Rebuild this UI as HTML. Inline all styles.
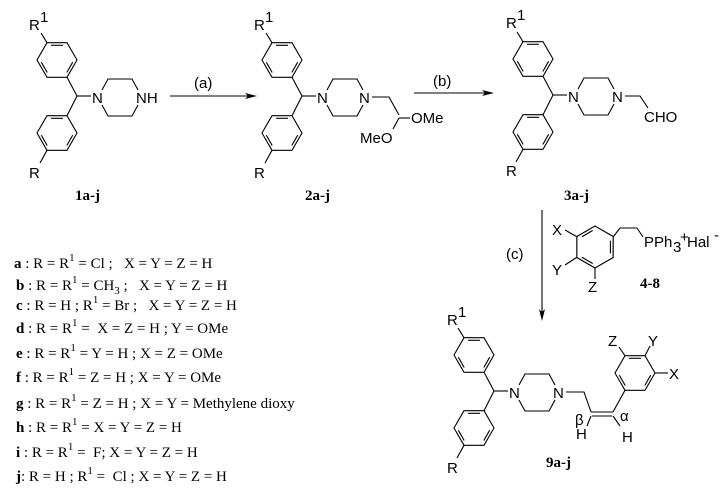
<!DOCTYPE html>
<html><head><meta charset="utf-8"><style>
html,body{margin:0;padding:0;background:#fff;}
svg{display:block;}
text{white-space:pre;}
.s{font-family:"Liberation Sans",sans-serif;font-size:15px;fill:#000;}
.t{font-family:"Liberation Serif",serif;font-size:15px;fill:#000;}
.b{font-family:"Liberation Serif",serif;font-size:15px;font-weight:bold;fill:#000;}
</style></head><body>
<svg width="728" height="498" viewBox="0 0 728 498" xmlns="http://www.w3.org/2000/svg" xml:space="preserve">
<defs>
<g id="hex" fill="none" stroke="#000" stroke-width="1.1">
<polygon points="20,0 10,17.3 -10,17.3 -20,0 -10,-17.3 10,-17.3"/>
<line x1="-5.95" y1="-14.7" x2="5.95" y2="-14.7"/>
<line x1="15.7" y1="2.2" x2="9.8" y2="12.5"/>
<line x1="-9.8" y1="12.5" x2="-15.7" y2="2.2"/>
</g>
<g id="core" fill="none" stroke="#000" stroke-width="1.1">
<use href="#hex" transform="translate(57,60)"/>
<use href="#hex" transform="translate(57,133)"/>
<line x1="47" y1="42.7" x2="41" y2="33"/>
<line x1="67" y1="77.3" x2="77" y2="96"/>
<line x1="77" y1="96" x2="67" y2="115.7"/>
<line x1="77" y1="96" x2="91" y2="96"/>
<line x1="47" y1="150.3" x2="40" y2="163"/>
<polyline points="102,90 108,79 132,79 138,90"/>
<polyline points="102,105 108,116 132,116 138,105"/>
</g>
</defs>

<!-- 1 -->
<use href="#core"/>
<text class="s" x="29" y="30">R</text><text class="s" x="40" y="22" font-size="11">1</text>
<text class="s" x="92" y="103">N</text>
<text class="s" x="136" y="103">NH</text>
<text class="s" x="29" y="178">R</text>
<text class="b" x="75" y="200">1a-j</text>

<!-- arrow a -->
<line x1="170" y1="96" x2="250" y2="96" stroke="#000" stroke-width="1.1"/>
<polygon points="257,96 245,93 248,96 245,99" fill="#000"/>
<text class="s" x="194" y="88">(a)</text>

<!-- 2 -->
<use href="#core" transform="translate(225,0)"/>
<text class="s" x="254" y="30">R</text><text class="s" x="265" y="22" font-size="11">1</text>
<text class="s" x="317" y="103">N</text>
<text class="s" x="359" y="103">N</text>
<text class="s" x="254" y="178">R</text>
<polyline points="372,97 389,97 399,115" fill="none" stroke="#000" stroke-width="1.1"/>
<line x1="399" y1="118" x2="410" y2="118" stroke="#000" stroke-width="1.1"/>
<line x1="399" y1="118" x2="393" y2="129" stroke="#000" stroke-width="1.1"/>
<text class="s" x="411" y="123">OMe</text>
<text class="s" x="360" y="143">MeO</text>
<text class="b" x="305" y="200">2a-j</text>

<!-- arrow b -->
<line x1="414" y1="93" x2="488" y2="93" stroke="#000" stroke-width="1.1"/>
<polygon points="494,93 482,90 485,93 482,96" fill="#000"/>
<text class="s" x="433" y="86">(b)</text>

<!-- 3 -->
<use href="#core" transform="translate(476,-1)"/>
<text class="s" x="506" y="28">R</text><text class="s" x="517" y="20" font-size="11">1</text>
<text class="s" x="568" y="102">N</text>
<text class="s" x="612" y="102">N</text>
<text class="s" x="506" y="176">R</text>
<polyline points="625,96 640,96 648,108" fill="none" stroke="#000" stroke-width="1.1"/>
<text class="s" x="644" y="122">CHO</text>
<text class="b" x="564" y="200">3a-j</text>

<!-- arrow c -->
<line x1="542" y1="210" x2="542" y2="314" stroke="#000" stroke-width="1.1"/>
<polygon points="542,321 539,309 542,312 545,309" fill="#000"/>
<text class="s" x="506" y="259">(c)</text>

<!-- phosphonium 4-8 -->
<use href="#hex" transform="translate(595,247) rotate(90) scale(1.05)"/>
<g fill="none" stroke="#000" stroke-width="1.1">
<line x1="576.5" y1="236.5" x2="565" y2="230"/>
<line x1="576.5" y1="257.5" x2="565" y2="265"/>
<line x1="595" y1="268" x2="595" y2="279"/>
<line x1="613.5" y1="236.5" x2="620" y2="228"/>
<line x1="620" y1="228" x2="637" y2="228"/>
<line x1="637" y1="228" x2="643" y2="237"/>
</g>
<text class="s" x="552" y="235">X</text>
<text class="s" x="552" y="275">Y</text>
<text class="s" x="588" y="292">Z</text>
<text class="s" x="644" y="247">PPh</text><text class="s" x="673" y="252" font-size="11">3</text>
<text class="s" x="680" y="242" font-size="11">+</text><text class="s" x="687" y="247">Hal</text><text class="s" x="714" y="240" font-size="11">-</text>
<text class="b" x="640" y="288">4-8</text>

<!-- 9 -->
<use href="#core" transform="translate(417,295)"/>
<text class="s" x="447" y="325">R</text><text class="s" x="458" y="317" font-size="11">1</text>
<text class="s" x="509" y="398">N</text>
<text class="s" x="553" y="398">N</text>
<text class="s" x="447" y="473">R</text>
<use href="#hex" transform="translate(635,373)"/>
<g fill="none" stroke="#000" stroke-width="1.1">
<polyline points="566,392 584,392 591,412"/>
<line x1="591" y1="412" x2="613" y2="412"/>
<line x1="592" y1="416" x2="612" y2="416"/>
<line x1="613" y1="412" x2="625" y2="390.3"/>
<line x1="591" y1="416" x2="587" y2="426"/>
<line x1="613" y1="416" x2="620" y2="426"/>
<line x1="625" y1="355.7" x2="619" y2="347"/>
<line x1="645" y1="355.7" x2="650" y2="346"/>
<line x1="655" y1="373" x2="668" y2="373"/>
</g>
<text class="s" x="608" y="346">Z</text>
<text class="s" x="648" y="346">Y</text>
<text class="s" x="669" y="379">X</text>
<text class="s" x="575" y="425" font-size="12">β</text>
<text class="s" x="620" y="421" font-size="12">α</text>
<text class="s" x="576" y="439" font-size="11">H</text>
<text class="s" x="622" y="442" font-size="11">H</text>
<text class="b" x="546" y="467">9a-j</text>

<!-- legend -->
<g class="t">
<text x="14" y="268"><tspan font-weight="bold">a</tspan> : R = R<tspan dy="-7" font-size="11">1</tspan><tspan dy="7"> = Cl ;   X = Y = Z = H</tspan></text>
<text x="16" y="290"><tspan font-weight="bold">b</tspan> : R = R<tspan dy="-7" font-size="11">1</tspan><tspan dy="7"> = CH</tspan><tspan dy="4" font-size="11">3</tspan><tspan dy="-4"> ;   X = Y = Z = H</tspan></text>
<text x="16" y="310"><tspan font-weight="bold">c</tspan> : R = H ; R<tspan dy="-7" font-size="11">1</tspan><tspan dy="7"> = Br ;   X = Y = Z = H</tspan></text>
<text x="16" y="333"><tspan font-weight="bold">d</tspan> : R = R<tspan dy="-7" font-size="11">1</tspan><tspan dy="7"> =  X = Z = H ; Y = OMe</tspan></text>
<text x="16" y="358"><tspan font-weight="bold">e</tspan> : R = R<tspan dy="-7" font-size="11">1</tspan><tspan dy="7"> = Y = H ; X = Z = OMe</tspan></text>
<text x="16" y="382"><tspan font-weight="bold">f</tspan> : R = R<tspan dy="-7" font-size="11">1</tspan><tspan dy="7"> = Z = H ; X = Y = OMe</tspan></text>
<text x="16" y="408"><tspan font-weight="bold">g</tspan> : R = R<tspan dy="-7" font-size="11">1</tspan><tspan dy="7"> = Z = H ; X = Y = Methylene dioxy</tspan></text>
<text x="16" y="432"><tspan font-weight="bold">h</tspan> : R = R<tspan dy="-7" font-size="11">1</tspan><tspan dy="7"> = X = Y = Z = H</tspan></text>
<text x="16" y="457"><tspan font-weight="bold">i</tspan> : R = R<tspan dy="-7" font-size="11">1</tspan><tspan dy="7"> =  F; X = Y = Z = H</tspan></text>
<text x="16" y="481"><tspan font-weight="bold">j</tspan>: R = H ; R<tspan dy="-7" font-size="11">1</tspan><tspan dy="7"> =  Cl ; X = Y = Z = H</tspan></text>
</g>
</svg>
</body></html>
